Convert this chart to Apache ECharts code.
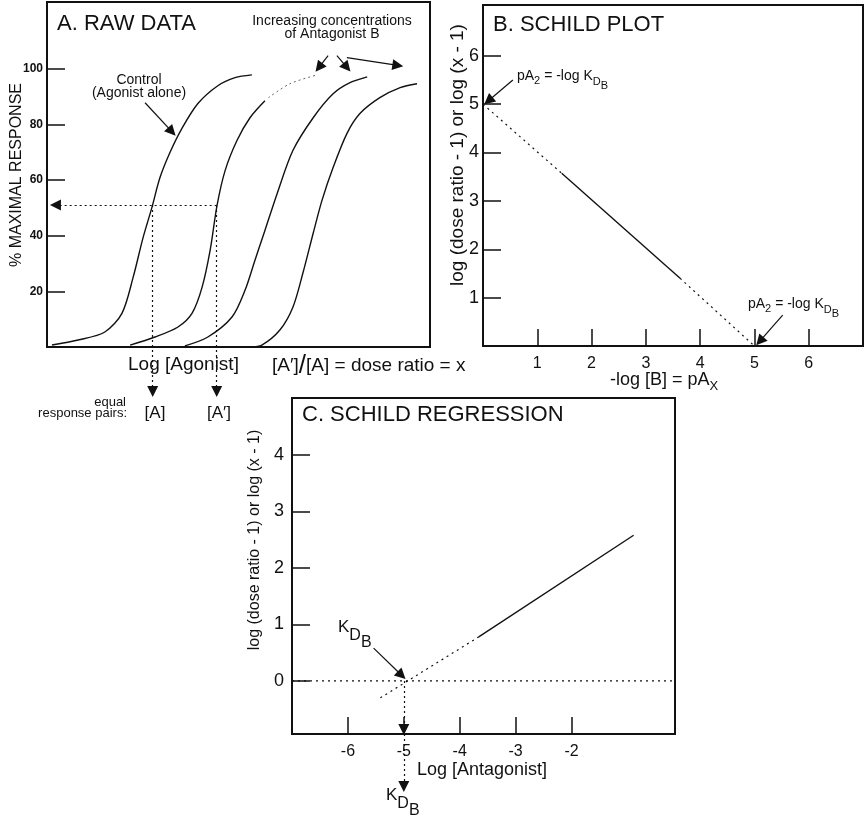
<!DOCTYPE html>
<html>
<head>
<meta charset="utf-8">
<title>Schild analysis</title>
<script src="https://cdn.jsdelivr.net/npm/echarts@6.0.0/dist/echarts.min.js"></script>
<style>
html, body { margin: 0; padding: 0; background: #fff; }
#chart { width: 865px; height: 821px; }
</style>
</head>
<body>
<div id="chart"></div>
<script>
// A. raw data: x = log [agonist] (arbitrary units), y = % maximal response
var controlCurve = [[1.3,0.7],[8.1,2.5],[15.1,5.4],[19.6,12.2],[22.5,25.1],[25.1,39.4],[27.4,50.2],[29.5,60.9],[32.1,69.9],[35.2,78.5],[39.4,87.5],[44.6,93.9],[49.1,96.8],[53.5,97.8]];
var antagonistLow = [[21.7,0.7],[28.2,3.6],[34.2,7.2],[37.9,12.2],[40.5,21.5],[42.6,34.8],[44.4,50.9],[46.5,63.4],[49.6,74.2],[53.0,82.4],[56.9,88.5]];
var antagonistLowTop = [[57.8,89.6],[63.4,94.6],[70.5,97.8]];
var antagonistMid = [[36.0,0.4],[42.0,3.6],[48.3,10.8],[51.7,20.4],[54.3,31.2],[56.9,41.9],[60.1,55.2],[64.2,70.6],[69.5,82.4],[74.7,91.0],[79.1,95.0],[83.6,97.1]];
var antagonistHigh = [[53.0,0],[56.1,0.7],[60.8,6.1],[64.2,14.3],[66.8,26.5],[69.5,40.9],[71.8,52.7],[74.7,64.5],[78.3,76.7],[81.7,83.9],[86.9,89.6],[92.2,93.2],[96.6,94.6]];
var responseTicks = [20, 40, 60, 80, 100];
var equalResponse = 51;
var doseA = 27.6;
var doseA2 = 44.3;

// B. Schild plot
var pAxTicks = [1, 2, 3, 4, 5, 6];
var schildTicks = [1, 2, 3, 4, 5, 6];
var schildLine = [[0,5],[1.45,3.57],[3.63,1.4],[5,0]];

// C. Schild regression
var antagonistTicks = [-6, -5, -4, -3, -2];
var regressionTicks = [0, 1, 2, 3, 4];
var regressionLine = [[-5.42,-0.3],[-3.66,0.78],[-0.89,2.58]];
var logKdb = -5;

var FONT = '"Liberation Sans", Arial, Helvetica, sans-serif';
var INK = '#111';

var measureCtx = document.createElement('canvas').getContext('2d');
function textWidth(t, size) {
    measureCtx.font = size + 'px ' + FONT;
    return measureCtx.measureText(t).width;
}

function curve(data, dotted) {
    return {
        type: 'line', data: data, smooth: 0.3, showSymbol: false, silent: true,
        xAxisIndex: 0, yAxisIndex: 0,
        lineStyle: dotted ? { color: '#666', width: 1, type: [2, 3] } : { color: INK, width: 1.4 }
    };
}
function seg(data, idx, dotted) {
    return {
        type: 'line', data: data, showSymbol: false, silent: true,
        xAxisIndex: idx, yAxisIndex: idx,
        lineStyle: dotted ? { color: INK, width: 1.2, type: [2, 4] } : { color: INK, width: 1.4 }
    };
}
function arrows(list, idx, dotted) {
    return {
        type: 'lines', coordinateSystem: 'cartesian2d', xAxisIndex: idx, yAxisIndex: idx,
        clip: false, silent: true, symbol: ['none', 'triangle'], symbolSize: 11,
        lineStyle: { color: INK, width: 1.2, type: dotted ? [2, 3] : 'solid', opacity: 1 },
        itemStyle: { color: INK },
        data: list.map(function (c) { return { coords: c }; })
    };
}
function txt(x, y, text, size, extra) {
    var s = { text: text, fontFamily: FONT, fontSize: size, fill: INK, align: 'left', verticalAlign: 'middle' };
    for (var k in (extra || {})) s[k] = extra[k];
    return { type: 'text', x: x, y: y, style: s, z: 100 };
}
function vtxt(x, y, text, size) {
    return { type: 'text', x: x, y: y, rotation: Math.PI / 2, z: 100,
        style: { text: text, fontFamily: FONT, fontSize: size, fill: INK, align: 'center', verticalAlign: 'middle' } };
}
// text with subscripts: parts = [[text, fontSize, dy], ...]
function subTxt(x, y, parts) {
    var out = [];
    parts.forEach(function (p) {
        out.push(txt(x, y + p[2], p[0], p[1]));
        x += textWidth(p[0], p[1]);
    });
    return out;
}
function axisX(idx, min, max, ticks, show) {
    return {
        type: 'value', gridIndex: idx, min: min, max: max,
        axisLine: { show: false, onZero: false }, splitLine: { show: false },
        axisTick: { show: show, inside: true, length: 17, customValues: ticks, lineStyle: { color: INK, width: 1.5 } },
        axisLabel: { show: show, customValues: ticks, margin: 10, color: INK, fontFamily: FONT, fontSize: 16 }
    };
}
function axisY(idx, min, max, ticks, size, margin, weight) {
    return {
        type: 'value', gridIndex: idx, min: min, max: max,
        axisLine: { show: false, onZero: false }, splitLine: { show: false },
        axisTick: { inside: true, length: 18, customValues: ticks, lineStyle: { color: INK, width: 1.5 } },
        axisLabel: { customValues: ticks, margin: margin, color: INK, fontFamily: FONT, fontSize: size, fontWeight: weight }
    };
}

var pA2Parts = [['pA', 14, 0], ['2', 11, 5], [' = -log K', 14, 0], ['D', 11, 6], ['B', 11, 10]];
var kdbParts = [['K', 17, 0], ['D', 16, 9], ['B', 16, 16]];

var graphics = [
    txt(57, 24, 'A. RAW DATA', 22),
    txt(332, 21, 'Increasing concentrations', 14, { align: 'center' }),
    txt(332, 34, 'of Antagonist B', 14, { align: 'center' }),
    txt(139, 80, 'Control', 14, { align: 'center' }),
    txt(139, 93, '(Agonist alone)', 14, { align: 'center' }),
    vtxt(17, 175, '% MAXIMAL RESPONSE', 16),
    txt(128, 365, 'Log [Agonist]', 19),
    txt(272, 366, '[A\u2032]{s|/}[A] = dose ratio = x', 19, { rich: { s: { fontFamily: FONT, fontSize: 26 } } }),
    txt(126, 402, 'equal', 13, { align: 'right' }),
    txt(127, 413, 'response pairs:', 13, { align: 'right' }),
    txt(155, 413, '[A]', 17, { align: 'center' }),
    txt(219, 413, '[A\u2032]', 17, { align: 'center' }),

    txt(493, 25, 'B. SCHILD PLOT', 22),
    vtxt(458, 155, 'log (dose ratio - 1) or log (x - 1)', 19),

    txt(302, 415, 'C. SCHILD REGRESSION', 22),
    vtxt(255, 540, 'log (dose ratio - 1) or log (x - 1)', 16),
    txt(417, 770, 'Log [Antagonist]', 18)
]
    .concat(subTxt(610, 380, [['-log [B] = pA', 18, 0], ['X', 13, 6]]))
    .concat(subTxt(517, 76, pA2Parts))
    .concat(subTxt(748, 304, pA2Parts))
    .concat(subTxt(338, 627, kdbParts))
    .concat(subTxt(386, 795, kdbParts));

var chart = echarts.init(document.getElementById('chart'));
var option = {
    animation: false,
    backgroundColor: '#fff',
    grid: [
        { left: 47, top: 2, width: 383, height: 345, show: true, borderColor: INK, borderWidth: 2 },
        { left: 483, top: 5, width: 380, height: 341, show: true, borderColor: INK, borderWidth: 2 },
        { left: 292, top: 398, width: 383, height: 336, show: true, borderColor: INK, borderWidth: 2 }
    ],
    xAxis: [
        axisX(0, 0, 100, [], false),
        axisX(1, 0, 7, pAxTicks, true),
        axisX(2, -7, -0.15, antagonistTicks, true)
    ],
    yAxis: [
        axisY(0, 0, 124, responseTicks, 12, 4, 'bold'),
        axisY(1, 0, 7.05, schildTicks, 18, 4, 'normal'),
        axisY(2, -0.94, 5.01, regressionTicks, 18, 8, 'normal')
    ],
    series: [
        curve(controlCurve), curve(antagonistLow), curve(antagonistLowTop, true),
        curve(antagonistMid), curve(antagonistHigh),
        arrows([
            [[25.6, 87.8], [32.6, 77.4]],
            [[73.4, 104.7], [71.0, 100.5]],
            [[75.7, 104.7], [78.3, 100.5]],
            [[78.3, 104.0], [91.6, 101.2]]
        ], 0, false),
        arrows([
            [[doseA2, equalResponse], [2.2, equalResponse]],
            [[doseA, equalResponse], [doseA, -16]],
            [[doseA2, equalResponse], [doseA2, -16]]
        ], 0, true),

        seg(schildLine.slice(0, 2), 1, true),
        seg(schildLine.slice(1, 3), 1, false),
        seg(schildLine.slice(2, 4), 1, true),
        arrows([
            [[0.55, 5.5], [0.1, 5.07]],
            [[5.52, 0.64], [5.1, 0.1]]
        ], 1, false),

        seg([[-7, 0], [-0.15, 0]], 2, true),
        seg(regressionLine.slice(0, 2), 2, true),
        seg(regressionLine.slice(1, 3), 2, false),
        arrows([[[-5.54, 0.58], [-5.04, 0.1]]], 2, false),
        arrows([
            [[logKdb, 0], [logKdb, -0.86]],
            [[logKdb, -0.94], [logKdb, -1.87]]
        ], 2, true)
    ],
    graphic: graphics
};
chart.setOption(option);
</script>
</body>
</html>
